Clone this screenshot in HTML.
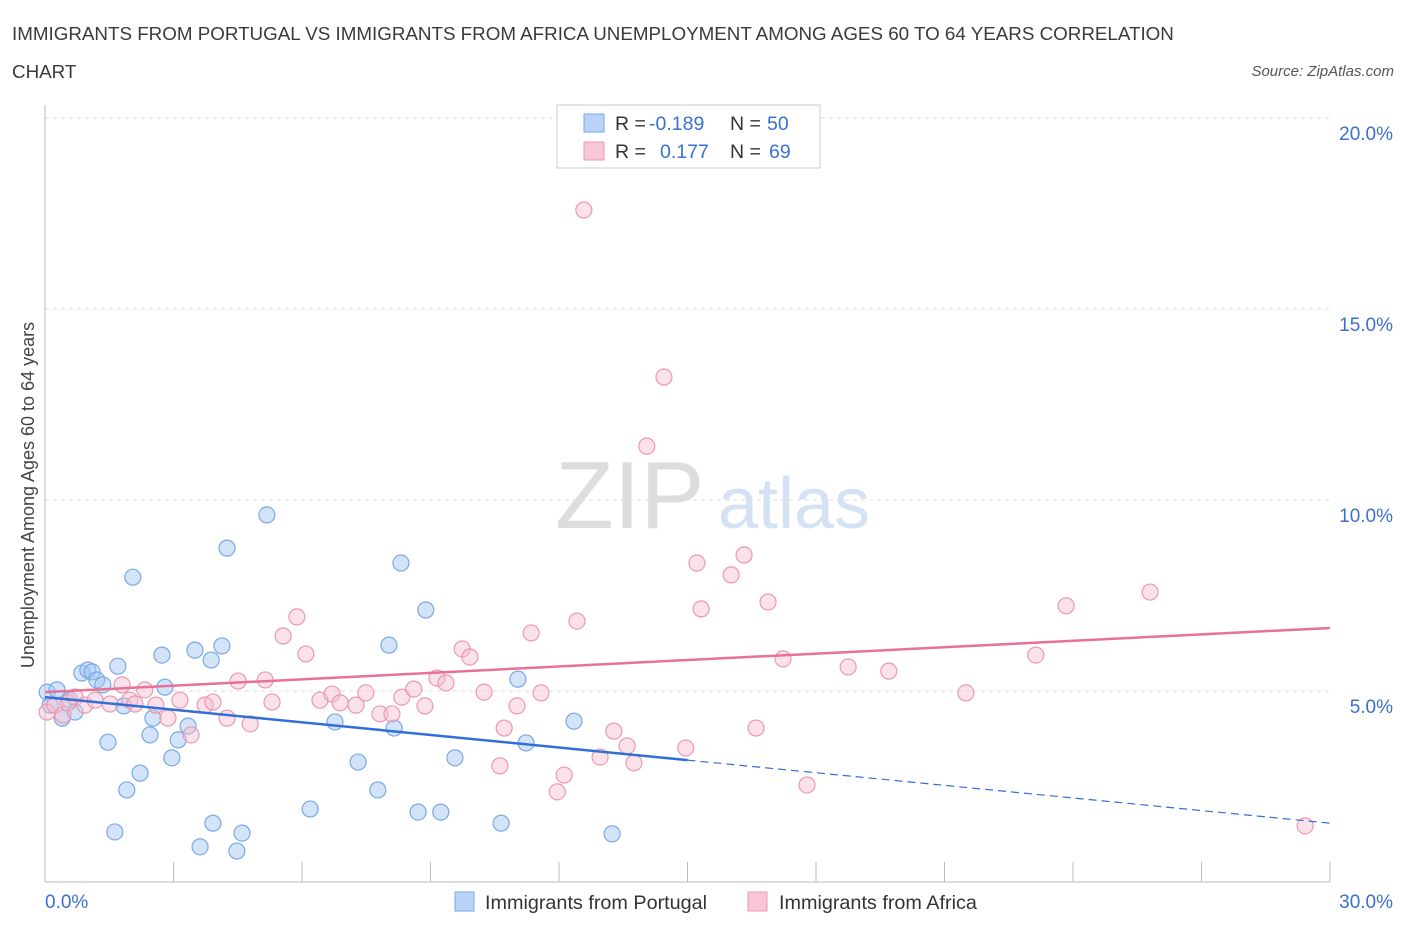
<!DOCTYPE html>
<html><head><meta charset="utf-8"><style>
body{margin:0;background:#fff;font-family:"Liberation Sans",sans-serif}
svg text{font-family:"Liberation Sans",sans-serif}
</style></head><body>
<svg id="chart" width="1406" height="930" xmlns="http://www.w3.org/2000/svg">
<text x="12" y="40" font-size="18.8" fill="#3a3a3a">IMMIGRANTS FROM PORTUGAL VS IMMIGRANTS FROM AFRICA UNEMPLOYMENT AMONG AGES 60 TO 64 YEARS CORRELATION</text>
<text x="12" y="78" font-size="18.8" fill="#3a3a3a">CHART</text>
<text x="1394" y="76" font-size="15" font-style="italic" fill="#555" text-anchor="end">Source: ZipAtlas.com</text>
<text transform="translate(34,495) rotate(-90)" font-size="18" fill="#444" text-anchor="middle">Unemployment Among Ages 60 to 64 years</text>
<text x="555" y="528" font-size="96" font-family="Liberation Serif" fill="#ddd">ZIP</text>
<text x="718" y="528" font-size="72" fill="#d4e2f4">atlas</text>
<g id="grid"></g><g id="marks"></g>
<g>
<rect x="557" y="105" width="263" height="63" fill="#fff" stroke="#ccc"/>
<rect x="584" y="114" width="20" height="18" fill="#b8d3f5" stroke="#7aa8e4"/>
<text x="615" y="130" font-size="19.5" fill="#333">R =</text>
<text x="649" y="130" font-size="19.5" fill="#3b6fd0">-0.189</text>
<text x="730" y="130" font-size="19.5" fill="#333">N =</text>
<text x="767" y="130" font-size="19.5" fill="#3b6fd0">50</text>
<rect x="584" y="142" width="20" height="18" fill="#f9c6d5" stroke="#eb98b2"/>
<text x="615" y="158" font-size="19.5" fill="#333">R =</text>
<text x="660" y="158" font-size="19.5" fill="#3b6fd0">0.177</text>
<text x="730" y="158" font-size="19.5" fill="#333">N =</text>
<text x="769" y="158" font-size="19.5" fill="#3b6fd0">69</text>
</g>
<g>
<rect x="455" y="892" width="19" height="19" fill="#b8d3f5" stroke="#7aa8e4"/>
<text x="485" y="909" font-size="19.8" fill="#333">Immigrants from Portugal</text>
<rect x="748" y="892" width="19" height="19" fill="#f9c6d5" stroke="#eb98b2"/>
<text x="779" y="909" font-size="19.8" fill="#333">Immigrants from Africa</text>
</g>
</svg>
<script>
const xTicks=[0,3,6,9,12,15,18,21,24,27,30];
const yTicks=[5,10,15,20];
const blueX=[0.05,0.12,0.28,0.40,0.58,0.70,0.86,1.00,1.10,1.21,1.35,1.47,1.63,1.70,1.84,2.05,2.22,1.91,2.45,2.52,2.73,2.80,2.96,3.11,3.34,3.50,3.62,3.88,3.92,4.13,4.25,4.48,4.60,5.18,6.19,6.77,7.31,7.77,8.03,8.15,8.31,8.71,8.89,9.24,9.57,10.65,11.04,11.23,12.35,13.24];
const blueY=[4.97,4.63,5.03,4.29,4.76,4.45,5.47,5.55,5.50,5.29,5.16,3.66,1.31,5.65,4.61,7.98,2.85,2.41,3.85,4.29,5.94,5.10,3.25,3.72,4.08,6.07,0.92,5.81,1.54,6.18,8.74,0.81,1.28,9.61,1.91,4.19,3.14,2.41,6.20,4.03,8.35,1.83,7.12,1.83,3.25,1.54,5.31,3.64,4.21,1.26];
const pinkX=[0.05,0.23,0.42,0.54,0.70,0.93,1.17,1.52,1.80,1.98,2.10,2.33,2.59,2.87,3.15,3.41,3.74,3.92,4.25,4.51,4.79,5.14,5.30,5.56,5.88,6.09,6.42,6.70,6.89,7.26,7.49,7.82,8.10,8.33,8.61,8.87,9.15,9.36,9.74,9.92,10.25,10.62,10.72,11.02,11.35,11.58,11.96,12.12,12.42,12.58,12.96,13.28,13.59,13.75,14.05,14.45,14.96,15.22,15.32,16.02,16.32,16.60,16.88,17.23,17.79,18.75,19.70,21.50,23.13,23.84,25.80,29.42];
const pinkY=[4.45,4.63,4.37,4.69,4.84,4.63,4.76,4.66,5.16,4.76,4.66,5.03,4.63,4.29,4.76,3.85,4.63,4.71,4.29,5.26,4.14,5.29,4.71,6.44,6.94,5.97,4.76,4.92,4.69,4.63,4.95,4.40,4.40,4.84,5.05,4.61,5.34,5.21,6.10,5.89,4.97,3.04,4.03,4.61,6.52,4.95,2.36,2.80,6.83,17.59,3.27,3.95,3.56,3.12,11.41,13.22,3.51,8.35,7.15,8.04,8.56,4.03,7.33,5.84,2.54,5.63,5.52,4.95,5.94,7.23,7.59,1.47];
const blueTrend=[4.84,1.54]; const pinkTrend=[4.97,6.65];
const X=v=>45+v/30*1285, Y=v=>882-v/5*191;
const NS="http://www.w3.org/2000/svg";
function mk(t,a,p){const e=document.createElementNS(NS,t);for(const k in a)e.setAttribute(k,a[k]);p.appendChild(e);return e;}
const g=document.getElementById('grid'),m=document.getElementById('marks');
yTicks.forEach(v=>{const l=mk('line',{x1:45,x2:1330,y1:Y(v),y2:Y(v),stroke:'#ddd','stroke-dasharray':'4,4'},g);


const t=mk('text',{x:1393,y:Y(v)+22,'font-size':19,fill:'#3b6fd0','text-anchor':'end'},g);t.textContent=v.toFixed(1)+'%';

});
const ax=mk('line',{x1:45,x2:1330,y1:882,y2:882,stroke:'#bbb'},g);


const ay=mk('line',{x1:45,x2:45,y1:105,y2:882,stroke:'#bbb'},g);


xTicks.forEach(v=>{const l=mk('line',{x1:X(v),x2:X(v),y1:862,y2:882,stroke:'#bbb'},g);

});
[[0,'start',45],[30,'end',1393]].forEach(([v,a,x])=>{const t=mk('text',{x:x,y:908,'font-size':19,fill:'#3b6fd0','text-anchor':a},g);t.textContent=v.toFixed(1)+'%';

});
blueX.forEach((v,i)=>{const c=mk('circle',{cx:X(v),cy:Y(blueY[i]),r:8,fill:'rgba(160,196,240,0.45)',stroke:'#7aa8e4','stroke-width':1.2},m);

});
pinkX.forEach((v,i)=>{const c=mk('circle',{cx:X(v),cy:Y(pinkY[i]),r:8,fill:'rgba(247,190,208,0.45)',stroke:'#eb98b2','stroke-width':1.2},m);

});
const bm=blueTrend[0]+(blueTrend[1]-blueTrend[0])*0.5;
const b1=mk('line',{x1:X(0),y1:Y(blueTrend[0]),x2:X(15),y2:Y(bm),stroke:'#2f6fd6','stroke-width':2.5},m);


const b2=mk('line',{x1:X(15),y1:Y(bm),x2:X(30),y2:Y(blueTrend[1]),stroke:'#2f6fd6','stroke-width':1.2,'stroke-dasharray':'8,5'},m);


const p1=mk('line',{x1:X(0),y1:Y(pinkTrend[0]),x2:X(30),y2:Y(pinkTrend[1]),stroke:'#e8709a','stroke-width':2.5},m);


</script>
</body></html>
